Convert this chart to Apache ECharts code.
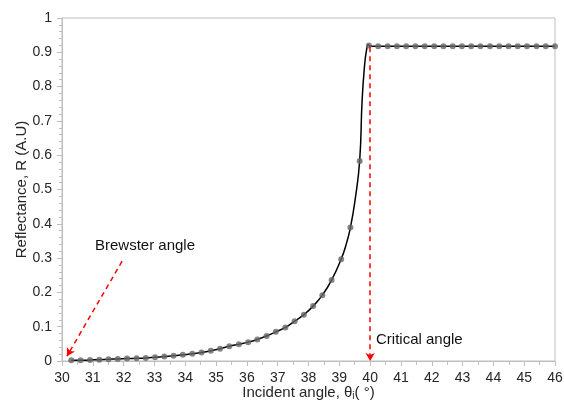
<!DOCTYPE html>
<html>
<head>
<meta charset="utf-8">
<script src="https://cdn.jsdelivr.net/npm/echarts@6/dist/echarts.min.js"></script>
<style>
    html, body { margin: 0; padding: 0; background: #fff; }
    #chart { width: 564px; height: 403px; }
</style>
</head>
<body>
<div id="chart"></div>
<script>
// measured points (incident angle, reflectance)
var angles = [30.30, 30.60, 30.91, 31.21, 31.51, 31.81, 32.11, 32.42, 32.72, 33.02,
    33.32, 33.62, 33.92, 34.23, 34.53, 34.83, 35.13, 35.43, 35.74, 36.04,
    36.34, 36.64, 36.94, 37.25, 37.55, 37.85, 38.15, 38.45, 38.75, 39.06,
    39.36, 39.66, 39.96, 40.26, 40.57, 40.87, 41.17, 41.47, 41.77, 42.08,
    42.38, 42.68, 42.98, 43.28, 43.58, 43.89, 44.19, 44.49, 44.79, 45.09,
    45.40, 45.70, 46.00];
var reflectance = [0.002, 0.002, 0.003, 0.004, 0.005, 0.006, 0.007, 0.008, 0.009, 0.011,
    0.013, 0.015, 0.018, 0.021, 0.025, 0.030, 0.036, 0.043, 0.049, 0.055,
    0.063, 0.073, 0.085, 0.098, 0.116, 0.135, 0.160, 0.192, 0.236, 0.297,
    0.389, 0.583, 0.920, 0.918, 0.918, 0.918, 0.918, 0.918, 0.918, 0.918,
    0.918, 0.918, 0.918, 0.918, 0.918, 0.918, 0.918, 0.918, 0.918, 0.918,
    0.918, 0.918, 0.918];

// extra points of the fitted curve near the critical angle
var curveAngles = [39.21, 39.51, 39.74, 39.82, 39.88, 39.94, 40.05];
var curveValues = [0.336, 0.468, 0.760, 0.862, 0.905, 0.922, 0.918];

// arrows: brewster (from, to), critical (from, to)
var brewsterArrow = [[31.95, 0.291], [30.16, 0.014]];
var criticalArrow = [[40.0, 0.915], [40.0, 0.0]];

var xTicks = { min: 30, max: 46, step: 1 };
var yTicks = { min: 0, max: 1, step: 0.1 };

var dots = angles.map(function (a, i) { return [a, reflectance[i]]; });
var curve = dots.concat(curveAngles.map(function (a, i) { return [a, curveValues[i]]; }))
    .sort(function (p, q) { return p[0] - q[0]; });

var chart = echarts.init(document.getElementById('chart'));
var axisGray = '#bfbfbf';
var textColor = '#262626';
var font = 'Liberation Sans';

var option = {
    animation: false,
    grid: {
        left: 62, right: 9, top: 18, bottom: 42,
        containLabel: false,
        outerBoundsMode: 'none',
        show: true,
        borderColor: axisGray,
        borderWidth: 1
    },
    xAxis: {
        type: 'value',
        min: xTicks.min, max: xTicks.max, interval: xTicks.step,
        name: 'Incident angle, θ{sub|i}( °)',
        nameLocation: 'middle',
        nameGap: 24,
        nameMoveOverlap: false,
        nameTextStyle: {
            fontFamily: font, fontSize: 15, color: textColor,
            rich: { sub: { fontFamily: font, fontSize: 10, color: textColor, padding: [6, 0, 0, 0] } }
        },
        axisLine: { lineStyle: { color: axisGray } },
        axisTick: { length: 5, lineStyle: { color: axisGray } },
        minorTick: { show: true, splitNumber: 2, length: 4, lineStyle: { color: axisGray } },
        splitLine: { show: false },
        axisLabel: { fontFamily: font, fontSize: 14, color: textColor, margin: 10 }
    },
    yAxis: {
        type: 'value',
        min: yTicks.min, max: yTicks.max, interval: yTicks.step,
        name: 'Reflectance, R (A.U)',
        nameLocation: 'middle',
        nameGap: 33,
        nameMoveOverlap: false,
        nameTextStyle: { fontFamily: font, fontSize: 15, color: textColor },
        axisLine: { show: true, lineStyle: { color: axisGray } },
        axisTick: { show: true, length: 5, lineStyle: { color: axisGray } },
        minorTick: { show: true, splitNumber: 5, length: 3, lineStyle: { color: axisGray } },
        splitLine: { show: false },
        axisLabel: { fontFamily: font, fontSize: 14, color: textColor, margin: 10 }
    },
    series: [
        {
            type: 'line',
            data: curve,
            smooth: 0.5,
            showSymbol: false,
            lineStyle: { color: '#000', width: 1.5 },
            z: 2,
            markLine: {
                silent: true,
                symbol: ['none', 'arrow'],
                symbolSize: [7, 8],
                label: { show: false },
                lineStyle: { color: '#ff0000', type: [5, 4], width: 1.5 },
                data: [
                    [{ coord: brewsterArrow[0] }, { coord: brewsterArrow[1] }],
                    [{ coord: criticalArrow[0] }, { coord: criticalArrow[1] }]
                ]
            }
        },
        {
            type: 'scatter',
            data: dots,
            symbolSize: 6,
            itemStyle: { color: '#666666' },
            z: 3
        }
    ],
    graphic: [
        {
            type: 'text', left: 95, top: 238,
            style: { text: 'Brewster angle', font: '15px "Liberation Sans"', fill: '#111' }
        },
        {
            type: 'text', left: 376, top: 332,
            style: { text: 'Critical angle', font: '15px "Liberation Sans"', fill: '#111' }
        }
    ]
};

chart.setOption(option);
</script>
</body>
</html>
